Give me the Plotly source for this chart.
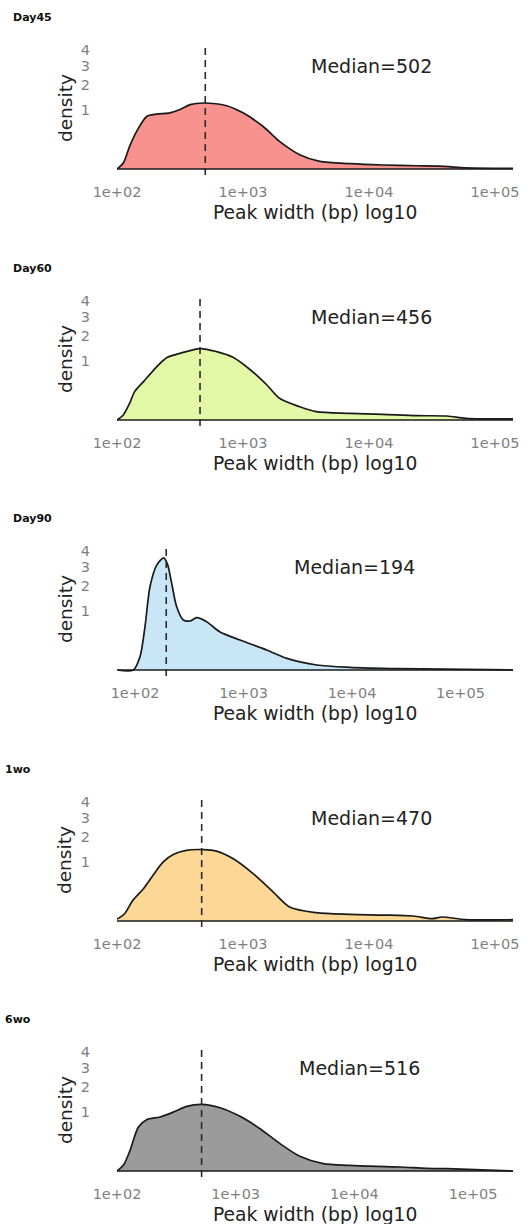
import numpy as np
import plotly.graph_objects as go

# ---------------- data ----------------
samples = ["Day45", "Day60", "Day90", "1wo", "6wo"]
medians = [502, 456, 194, 470, 516]
fill_colors = ["#F8928F", "#E2F8A6", "#C8E6F6", "#FDD796", "#9B9B9B"]

# log10(peak width) grid points and density of log10(width)
day45_logw = [2.00, 2.05, 2.10, 2.156, 2.236, 2.315, 2.42, 2.50, 2.58, 2.685, 2.87, 3.00, 3.16,
              3.29, 3.45, 3.61, 3.85, 4.11, 4.38, 4.60, 4.77, 5.15]
day45_dens = [0.0, 0.01, 0.145, 0.40, 0.78, 0.85, 0.89, 1.00, 1.17, 1.23, 1.13, 0.89, 0.51,
              0.216, 0.058, 0.0166, 0.008, 0.0045, 0.003, 0.002, 0.0003, 0.0001]

day60_logw = [2.00, 2.05, 2.10, 2.14, 2.21, 2.315, 2.40, 2.50, 2.66, 2.79, 2.92, 3.06, 3.19,
              3.29, 3.45, 3.58, 3.85, 4.11, 4.38, 4.62, 4.77, 5.15]
day60_dens = [0.0, 0.007, 0.078, 0.227, 0.415, 0.80, 1.11, 1.255, 1.44, 1.32, 1.11, 0.706, 0.346,
              0.133, 0.05, 0.0196, 0.0125, 0.009, 0.0053, 0.0045, 0.0008, 0.0003]

day90_logw = [1.837, 1.985, 2.046, 2.092, 2.138, 2.20, 2.265, 2.30, 2.338, 2.384, 2.445, 2.507,
              2.569, 2.66, 2.78, 2.968, 3.214, 3.40, 3.675, 3.98, 4.44, 5.484]
day90_dens = [0.0, 0.0, 0.05, 0.53, 1.96, 3.11, 3.55, 3.15, 2.12, 1.13, 0.706, 0.678,
              0.774, 0.66, 0.415, 0.254, 0.113, 0.038, 0.007, 0.002, 0.0005, 0.0]

wo1_logw = [2.00, 2.06, 2.125, 2.21, 2.286, 2.365, 2.45, 2.55, 2.685, 2.79, 2.92, 3.08, 3.24,
            3.37, 3.58, 3.85, 4.11, 4.35, 4.50, 4.58, 4.77, 5.15]
wo1_dens = [0.001, 0.015, 0.12, 0.295, 0.59, 0.98, 1.255, 1.41, 1.44, 1.38, 1.10, 0.633, 0.237,
            0.055, 0.0196, 0.0125, 0.01, 0.007, 0.0015, 0.0045, 0.0005, 0.0005]

wo6_logw = [2.00, 2.053, 2.11, 2.18, 2.25, 2.362, 2.474, 2.587, 2.713, 2.868, 3.036, 3.205, 3.373,
            3.54, 3.738, 3.963, 4.384, 4.61, 4.78, 5.336]
wo6_dens = [0.0, 0.009, 0.12, 0.547, 0.744, 0.824, 0.98, 1.18, 1.255, 1.13, 0.844, 0.506, 0.211,
            0.061, 0.015, 0.009, 0.0045, 0.002, 0.0015, 0.0]

logw_list = [day45_logw, day60_logw, day90_logw, wo1_logw, wo6_logw]
dens_list = [day45_dens, day60_dens, day90_dens, wo1_dens, wo6_dens]

x_tickvals = [1e2, 1e3, 1e4, 1e5]
x_ticktext = ["1e+02", "1e+03", "1e+04", "1e+05"]
y_tickvals = [1, 2, 3, 4]
y_ticktext = ["1", "2", "3", "4"]

# ---------------- layout geometry (pixels) ----------------
W, H = 529, 1224
baselines = [169, 420, 670, 921, 1171]
title_y = [18, 268, 518, 769, 1019]
title_x = [11, 11, 11, 3, 3]
x_ranges = [[2.0, 5.143], [2.0, 5.143], [1.834, 5.484], [2.0, 5.143], [2.0, 5.336]]
median_label_x = [4.02, 4.02, 4.02, 4.02, 4.04]
px_per_unit = 59.5
y_lo, y_hi = -0.1, 2.1

FONT = "DejaVu Sans"
fig = go.Figure()

for i in range(5):
    ax = "" if i == 0 else str(i + 1)
    xr, yr = "x" + ax, "y" + ax
    xw = 10 ** np.array(logw_list[i])
    ys = np.sqrt(np.array(dens_list[i]))  # sqrt-scaled density axis

    fig.add_trace(go.Scatter(x=xw, y=ys, mode="lines", fill="tozeroy",
                             fillcolor=fill_colors[i],
                             line=dict(color="#1a1a1a", width=1.7, shape="spline", smoothing=0.8),
                             xaxis=xr, yaxis=yr, showlegend=False, hoverinfo="skip"))
    # bottom outline of the density polygon
    fig.add_trace(go.Scatter(x=[xw[0], xw[-1]], y=[0, 0], mode="lines",
                             line=dict(color="#1a1a1a", width=1.7),
                             xaxis=xr, yaxis=yr, showlegend=False, hoverinfo="skip"))
    # median dashed line
    fig.add_trace(go.Scatter(x=[medians[i], medians[i]], y=[y_lo, y_hi], mode="lines",
                             line=dict(color="#2a2a2a", width=1.6, dash="7px,5px"),
                             xaxis=xr, yaxis=yr, showlegend=False, hoverinfo="skip"))

    b = baselines[i]
    top_px = b - y_hi * px_per_unit
    bot_px = b - y_lo * px_per_unit
    xdom = [117 / W, 513 / W]
    ydom = [1 - bot_px / H, 1 - top_px / H]

    fig.update_layout(**{
        "xaxis" + ax: dict(domain=xdom, type="log", range=x_ranges[i], anchor=yr,
                           tickvals=x_tickvals, ticktext=x_ticktext, showgrid=False,
                           zeroline=False, showline=False, ticks="", automargin=False,
                           tickfont=dict(family=FONT, size=14.5, color="#7F7F7F"),
                           ticklabelstandoff=7),
        "yaxis" + ax: dict(domain=ydom, range=[y_lo, y_hi], anchor=xr,
                           tickvals=list(np.sqrt(y_tickvals)), ticktext=y_ticktext,
                           showgrid=False, zeroline=False, showline=False, ticks="",
                           automargin=False,
                           tickfont=dict(family=FONT, size=14.5, color="#7F7F7F"),
                           ticklabelstandoff=26),
    })

    # texts
    fig.add_annotation(x=median_label_x[i], y=np.sqrt(3), xref=xr, yref=yr,
                       xanchor="center", yanchor="middle",
                       text=f"Median={medians[i]}", showarrow=False,
                       font=dict(family=FONT, size=19, color="#222222"))
    fig.add_annotation(x=title_x[i] / W, y=1 - title_y[i] / H, xref="paper", yref="paper",
                       xanchor="left", yanchor="middle", text=f"<b>{samples[i]}</b>",
                       showarrow=False, font=dict(family=FONT, size=11, color="#111111"))
    fig.add_annotation(x=315 / W, y=1 - (b + 43) / H, xref="paper", yref="paper",
                       xanchor="center", yanchor="middle",
                       text="Peak width (bp) log10", showarrow=False,
                       font=dict(family=FONT, size=18.7, color="#222222"))
    fig.add_annotation(x=65 / W, y=1 - (b - 61) / H, xref="paper", yref="paper",
                       xanchor="center", yanchor="middle",
                       text="density", textangle=-90, showarrow=False,
                       font=dict(family=FONT, size=18.5, color="#222222"))

fig.update_layout(width=W, height=H, margin=dict(l=0, r=0, t=0, b=0, autoexpand=False),
                  template="none", paper_bgcolor="white", plot_bgcolor="white")
fig.write_html("out.html")
